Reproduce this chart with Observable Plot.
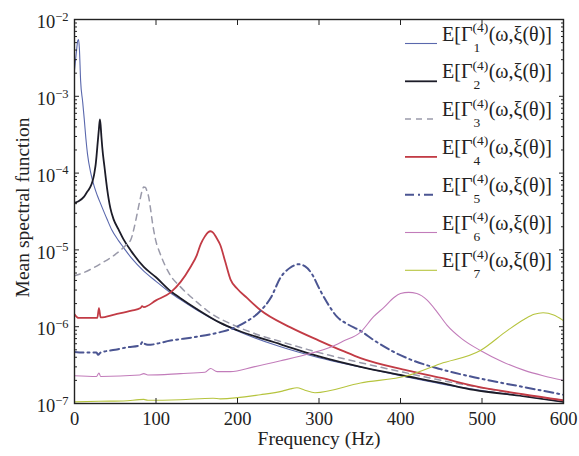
<!DOCTYPE html>
<html><head><meta charset="utf-8">
<script src="https://cdn.jsdelivr.net/npm/d3@7"></script>
<script src="https://cdn.jsdelivr.net/npm/@observablehq/plot@0.6"></script>
<style>
body{margin:0;background:#fff;}
svg{font-family:"Liberation Serif","DejaVu Serif",serif;}
</style>
</head><body><div id="chart"></div>
<script>
// ---- data ----
const modeIndex = [1, 2, 3, 4, 5, 6, 7];

const f1 = [0, 2, 4, 5, 6, 7.5, 10, 12, 14, 16, 20, 24, 28, 32, 40, 46, 54, 60, 70, 85, 100, 118, 130, 150, 180, 200, 250, 300, 350, 400, 450, 500, 550, 600];
const v1 = [2.2e-3, 3.5e-3, 5.3e-3, 5.5e-3, 4.2e-3, 1.6e-3, 8.5e-4, 5e-4, 2.8e-4, 1.75e-4, 1e-4, 6.8e-5, 5.1e-5, 4e-5, 2.5e-5, 1.8e-5, 1.32e-5, 1.08e-5, 7.8e-6, 5.3e-6, 3.9e-6, 2.75e-6, 2.25e-6, 1.65e-6, 1.1e-6, 8.8e-7, 5.6e-7, 3.95e-7, 3e-7, 2.3e-7, 1.8e-7, 1.48e-7, 1.25e-7, 1.05e-7];

const f2 = [0, 5, 11.5, 16, 18, 20, 22, 24, 25, 26, 27, 28, 29, 30, 31.2, 32.2, 33, 34, 36.8, 40, 44, 48, 54, 60, 70, 85, 100, 118, 130, 150, 179, 200, 253, 300, 351, 400, 450, 490, 550, 600];
const v2 = [4.1e-5, 4.3e-5, 4.9e-5, 5.8e-5, 6.2e-5, 6.8e-5, 7.8e-5, 9.5e-5, 1.1e-4, 1.3e-4, 1.65e-4, 2.2e-4, 2.9e-4, 3.8e-4, 5e-4, 4e-4, 3e-4, 2.2e-4, 1.2e-4, 6.3e-5, 3.5e-5, 2.5e-5, 1.85e-5, 1.38e-5, 9.5e-6, 6e-6, 4.4e-6, 2.9e-6, 2.35e-6, 1.7e-6, 1.12e-6, 9e-7, 5.9e-7, 4.1e-7, 3e-7, 2.35e-7, 1.85e-7, 1.5e-7, 1.25e-7, 1.05e-7];

const f3 = [0, 10, 20, 32, 45, 56, 63, 69, 73, 77, 80, 83, 85, 87, 89, 91, 93, 95.3, 99.5, 105, 118, 130, 150, 167, 191, 220, 253, 300, 351, 400, 450, 500, 550, 600];
const v3 = [4.6e-6, 5e-6, 5.6e-6, 6.6e-6, 8e-6, 9.8e-6, 1.15e-5, 1.35e-5, 1.9e-5, 3e-5, 4.3e-5, 5.9e-5, 6.6e-5, 6.5e-5, 5.8e-5, 4.9e-5, 3.6e-5, 2.4e-5, 1.35e-5, 9e-6, 4.6e-6, 3.3e-6, 2.1e-6, 1.5e-6, 1.1e-6, 8.2e-7, 6.4e-7, 4.6e-7, 3.4e-7, 2.6e-7, 2e-7, 1.6e-7, 1.3e-7, 1.1e-7];

const f4 = [0, 5, 20, 28, 30, 32, 50, 70, 81, 83, 85, 100, 118, 130, 142, 150, 155, 160, 164, 167, 170, 174, 179, 185, 191.5, 200, 212, 228, 265, 300, 330, 351, 408, 450, 490, 550, 600];
const v4 = [1.45e-6, 1.3e-6, 1.3e-6, 1.3e-6, 1.75e-6, 1.32e-6, 1.45e-6, 1.62e-6, 1.75e-6, 1.85e-6, 1.8e-6, 2.2e-6, 2.8e-6, 3.8e-6, 5.9e-6, 8.5e-6, 1.2e-5, 1.5e-5, 1.7e-5, 1.75e-5, 1.68e-5, 1.45e-5, 1.15e-5, 7e-6, 4.1e-6, 3.1e-6, 2.35e-6, 1.65e-6, 9.8e-7, 6.6e-7, 4.8e-7, 3.9e-7, 2.7e-7, 2.15e-7, 1.7e-7, 1.32e-7, 1.1e-7];

const f5 = [0, 15, 27, 29, 32, 50, 65, 80, 84, 86, 90, 118, 150, 179, 192, 210, 228, 241, 253, 265, 275, 283, 290, 302, 312, 322, 335, 351, 368, 390, 408, 449, 490, 552, 600];
const v5 = [4.7e-7, 4.6e-7, 4.6e-7, 4.3e-7, 4.6e-7, 5e-7, 5.4e-7, 5.7e-7, 6.4e-7, 6e-7, 5.8e-7, 6.6e-7, 7.4e-7, 8.5e-7, 9.3e-7, 1.15e-6, 1.6e-6, 2.4e-6, 4.4e-6, 5.9e-6, 6.5e-6, 6.1e-6, 5.1e-6, 2.9e-6, 1.9e-6, 1.35e-6, 1.08e-6, 8.8e-7, 6.6e-7, 4.8e-7, 3.9e-7, 2.8e-7, 2.2e-7, 1.63e-7, 1.3e-7];

const f6 = [0, 27, 30, 32, 80, 85, 90, 130, 160, 167, 175, 191, 220, 253, 290, 314, 330, 351, 367, 380, 392, 400, 410, 420, 433, 445, 457, 475, 498, 525, 552, 575, 600];
const v6 = [2.3e-7, 2.25e-7, 2.5e-7, 2.25e-7, 2.35e-7, 2.45e-7, 2.35e-7, 2.45e-7, 2.55e-7, 2.85e-7, 2.6e-7, 2.6e-7, 3e-7, 3.6e-7, 4.5e-7, 5.4e-7, 6.5e-7, 8.5e-7, 1.35e-6, 1.8e-6, 2.4e-6, 2.7e-6, 2.8e-6, 2.7e-6, 2.2e-6, 1.55e-6, 1.05e-6, 7e-7, 4.9e-7, 3.5e-7, 2.7e-7, 2.3e-7, 2e-7];

const f7 = [0, 30, 60, 85, 90, 130, 170, 179, 228, 255, 265, 273, 282, 295, 351, 408, 449, 498, 531, 552, 564, 575, 588, 600];
const v7 = [1.05e-7, 1.07e-7, 1.08e-7, 1.13e-7, 1.1e-7, 1.12e-7, 1.17e-7, 1.15e-7, 1.3e-7, 1.45e-7, 1.55e-7, 1.6e-7, 1.5e-7, 1.38e-7, 1.85e-7, 2.3e-7, 3.3e-7, 4.9e-7, 8.9e-7, 1.25e-6, 1.45e-6, 1.52e-6, 1.42e-6, 1.2e-6];

const xTicks = [0, 100, 200, 300, 400, 500, 600];
const yMajor = [1e-2, 1e-3, 1e-4, 1e-5, 1e-6, 1e-7];
const xLabel = "Frequency (Hz)";
const yLabel = "Mean spectral function";
const legendHead = "E[Γ";
const legendSup = "(4)";
const legendTail = "(ω,ξ(θ)]";

// ---- styles ----
const colors = ["#5a68ad", "#1c1c28", "#9a9aaa", "#c23b45", "#4b5592", "#c27cba", "#b6c43e"];
const widths = [1.1, 1.8, 1.5, 1.8, 2, 1.1, 1.1];
const dashes = [null, null, "6,5", null, "9,4,2,4", null, null];

const freqs = [f1, f2, f3, f4, f5, f6, f7];
const vals = [v1, v2, v3, v4, v5, v6, v7];
const rows = [];
freqs.forEach((fs, i) => fs.forEach((f, j) => rows.push({s: i, f, v: vals[i][j]})));

const yMinor = [];
for (let e = -7; e < -2; e++) for (let k = 2; k < 10; k++) yMinor.push(k * Math.pow(10, e));

const ink = "#222";
const plot = Plot.plot({
  width: 579, height: 456,
  marginLeft: 74, marginRight: 16, marginTop: 19, marginBottom: 53,
  style: {fontFamily: '"Liberation Serif", serif', fontSize: "18px", background: "#fff", color: ink},
  x: {domain: [0, 600], label: null},
  y: {type: "log", domain: [1e-7, 1e-2], label: null},
  marks: [
    ...modeIndex.map((k, i) => Plot.line(rows.filter(r => r.s === i), {
      x: "f", y: "v", stroke: colors[i], strokeWidth: widths[i],
      strokeDasharray: dashes[i] || undefined, curve: "monotone-x", clip: true
    })),
    Plot.frame({stroke: ink, strokeWidth: 1.4}),
    Plot.axisX(xTicks, {anchor: "bottom", tickSize: 0, tickPadding: 8, fontSize: 18.5, label: null}),
    Plot.axisX(xTicks.slice(1, -1), {anchor: "bottom", tickSize: -5, fill: "none", label: null}),
    Plot.axisX(xTicks.slice(1, -1), {anchor: "top", tickSize: -5, fill: "none", label: null}),
    Plot.axisY(yMajor, {anchor: "left", tickSize: 0, tickPadding: 6, fontSize: 18.5, label: null,
      tickFormat: d => "10^" + Math.round(Math.log10(d))}),
    Plot.axisY(yMajor, {anchor: "left", tickSize: -5, fill: "none", label: null}),
    Plot.axisY(yMinor, {anchor: "left", tickSize: -3, fill: "none", label: null}),
    Plot.axisY(yMajor, {anchor: "right", tickSize: -5, fill: "none", label: null}),
    Plot.axisY(yMinor, {anchor: "right", tickSize: -3, fill: "none", label: null}),
    Plot.text([xLabel], {text: d => d, frameAnchor: "bottom", dy: 35, textAnchor: "middle", lineAnchor: "middle", fontSize: 19.5, fill: ink}),
    Plot.text([yLabel], {text: d => d, frameAnchor: "left", dx: -52, dy: -4, rotate: -90, textAnchor: "middle", lineAnchor: "middle", fontSize: 19.5, fill: ink})
  ]
});
document.getElementById("chart").appendChild(plot);

const svg = d3.select(plot);
// superscript exponents on y tick labels
svg.selectAll('g[aria-label="y-axis tick label"] text').each(function () {
  const t = this.textContent;
  if (!t.includes("^")) return;
  const [base, exp] = t.split("^");
  const el = d3.select(this);
  el.text(null);
  el.append("tspan").attr("dy", "0.15em").text(base);
  el.append("tspan").attr("dy", "-0.6em").attr("font-size", 12.5).text(exp.replace("-", "−"));
});

// legend (inside upper right)
function textWidth(sel, fallback) {
  let w = 0;
  try { w = sel.node().getBBox().width; } catch (e) { w = 0; }
  return w > 2 ? w : fallback;
}
const lg = svg.append("g").attr("font-family", '"Liberation Serif", serif').attr("fill", ink).attr("text-anchor", "start");
modeIndex.forEach((k, i) => {
  const ly = 43.5 + i * 37.8;
  lg.append("line").attr("x1", 405).attr("x2", 437).attr("y1", ly).attr("y2", ly)
    .attr("stroke", colors[i]).attr("stroke-width", widths[i])
    .attr("stroke-dasharray", dashes[i]);
  const x0 = 442;
  const a = lg.append("text").attr("x", x0).attr("y", ly - 3).style("font-size", "20px").text(legendHead);
  const wa = textWidth(a, 30);
  const sup = lg.append("text").attr("x", x0 + wa).attr("y", ly - 11.5).style("font-size", "13.5px").text(legendSup);
  const ws = textWidth(sup, 16);
  lg.append("text").attr("x", x0 + wa + 1).attr("y", ly + 8).style("font-size", "13.5px").text(String(k));
  lg.append("text").attr("x", x0 + wa + ws + 0.5).attr("y", ly - 3).style("font-size", "20px").text(legendTail);
});
</script>
</body></html>
